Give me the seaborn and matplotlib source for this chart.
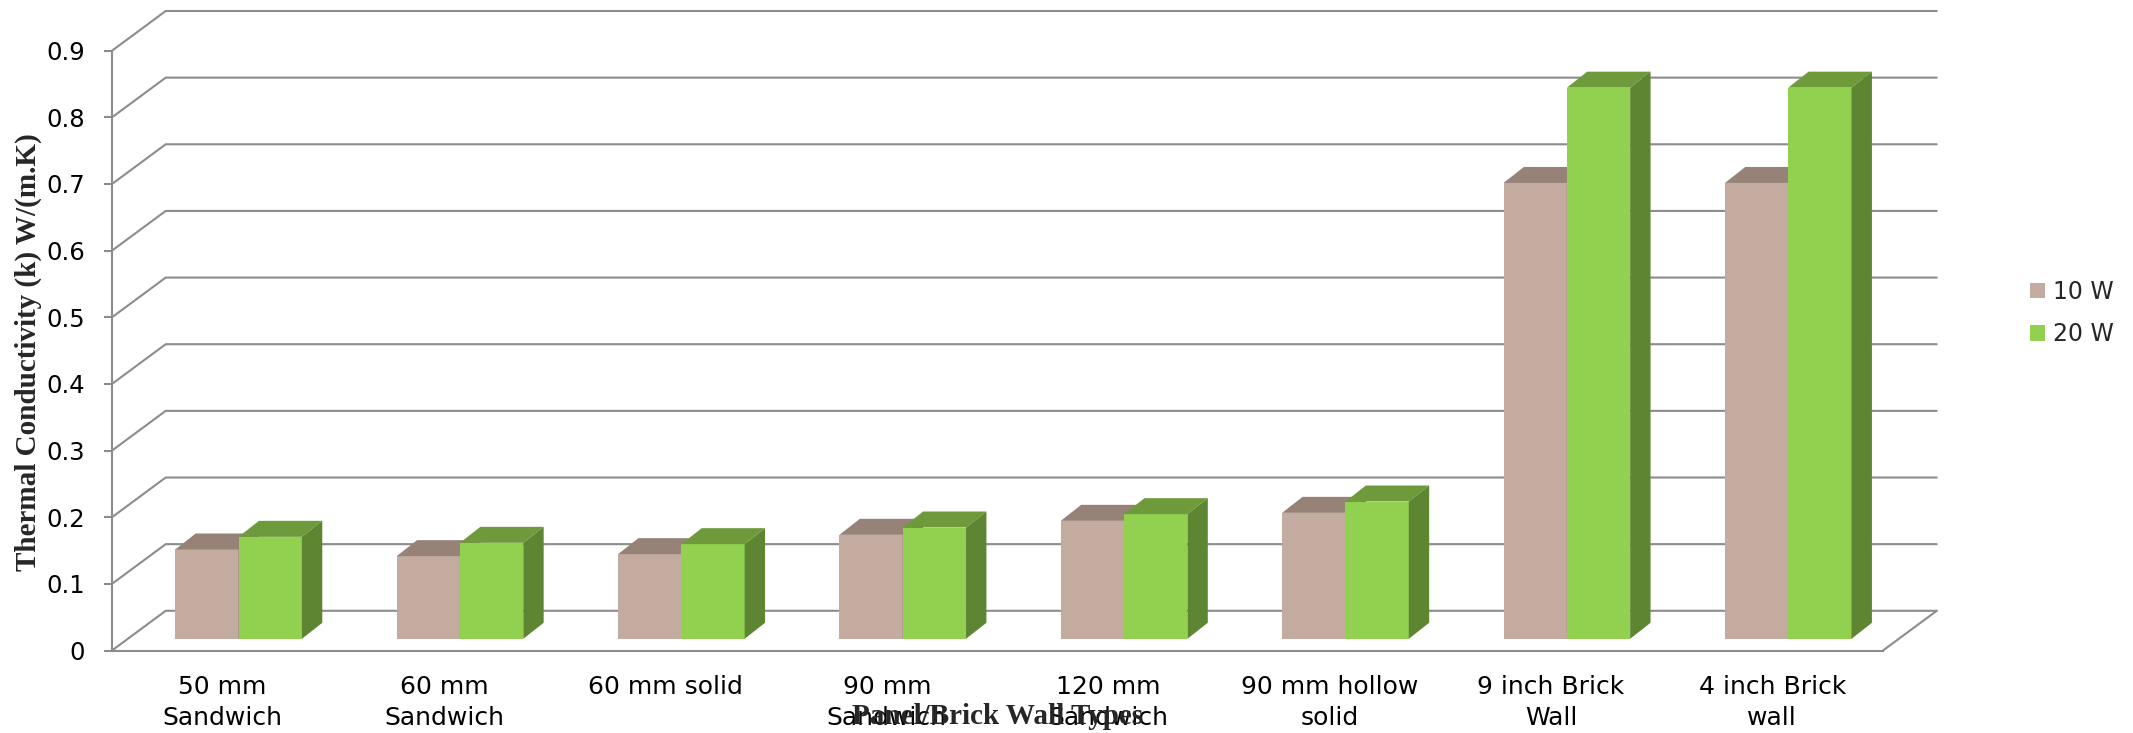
import numpy as np
import pandas as pd
import matplotlib
matplotlib.use("Agg")
import matplotlib.pyplot as plt
from matplotlib.patches import Polygon, Patch
import seaborn as sns

# ---- data -----------------------------------------------------------------
walls = [
    "50 mm\nSandwich",
    "60 mm\nSandwich",
    "60 mm solid",
    "90 mm\nSandwich",
    "120 mm\nSandwich",
    "90 mm hollow\nsolid",
    "9 inch Brick\nWall",
    "4 inch Brick\nwall",
]
powers = ["10 W", "20 W"]
k_10w = [0.134, 0.124, 0.127, 0.156, 0.177, 0.189, 0.684, 0.684]
k_20w = [0.153, 0.144, 0.142, 0.167, 0.187, 0.206, 0.827, 0.827]
y_ticks = [0, 0.1, 0.2, 0.3, 0.4, 0.5, 0.6, 0.7, 0.8, 0.9]
y_tick_labels = ["0", "0.1", "0.2", "0.3", "0.4", "0.5", "0.6", "0.7", "0.8", "0.9"]

df = pd.DataFrame({
    "wall": walls * 2,
    "k": k_10w + k_20w,
    "power": [powers[0]] * len(walls) + [powers[1]] * len(walls),
})

# ---- styling --------------------------------------------------------------
FRONT = {"10 W": "#C4AB9F", "20 W": "#92D050"}
TOP = {"10 W": "#968277", "20 W": "#6F9A3B"}
SIDE = {"10 W": "#8A776C", "20 W": "#5E8632"}
GRID = "#8C8C8C"
LW = 1.5

sns.set_style("white")
plt.rcParams["font.family"] = ["DejaVu Sans"]

W, H = 2133, 733
fig = plt.figure(figsize=(W / 100, H / 100), dpi=100)

# front plane of the 3-D box, in pixels
ax_left, ax_right = 112, 1883
ax_bottom, ax_top = 650.5, 50.7
ax = fig.add_axes([ax_left / W, (H - ax_bottom) / H,
                   (ax_right - ax_left) / W, (ax_bottom - ax_top) / H])

sns.barplot(data=df, x="wall", y="k", hue="power", order=walls,
            hue_order=powers, palette=[FRONT[p] for p in powers],
            width=0.572, saturation=1, errorbar=None, legend=False,
            linewidth=0, ax=ax)

n = len(walls)
ax.set_xlim(-0.5, n - 0.5)
ax.set_ylim(0, 0.9)

# pixel -> data conversions for the oblique depth offsets
px_x = (ax_right - ax_left) / n
px_y = (ax_bottom - ax_top) / 0.9
wall_dx, wall_dy = 53.7 / px_x, 39.7 / px_y      # back wall
bar_dx, bar_dy = 15.9 / px_x, 11.7 / px_y        # front face of the bars
side_dx, side_dy = 20.4 / px_x, 16.0 / px_y      # bar depth

# back-wall gridlines with the left-wall diagonals
x0, x1 = -0.5, n - 0.5
for v in y_ticks:
    ax.plot([x0, x0 + wall_dx, x1 + wall_dx], [v, v + wall_dy, v + wall_dy],
            color=GRID, lw=LW, clip_on=False, zorder=1)
ax.plot([x1, x1 + wall_dx], [0, wall_dy], color=GRID, lw=LW,
        clip_on=False, zorder=1)

# push the bars into the box and give them a top and a side face
for level, cont in zip(powers, ax.containers):
    z = 3 if level == powers[0] else 4
    for bar in cont:
        bx = bar.get_x() + bar_dx
        bw = bar.get_width()
        h = bar.get_height()
        bar.set_x(bx)
        bar.set_y(bar_dy)
        bar.set_zorder(z)
        base, top = bar_dy, bar_dy + h
        top_face = Polygon([(bx, top), (bx + bw, top),
                            (bx + bw + side_dx, top + side_dy),
                            (bx + side_dx, top + side_dy)],
                           closed=True, facecolor=TOP[level],
                           edgecolor="none", zorder=z, clip_on=False)
        side_face = Polygon([(bx + bw, base), (bx + bw + side_dx, base + side_dy),
                             (bx + bw + side_dx, top + side_dy), (bx + bw, top)],
                            closed=True, facecolor=SIDE[level],
                            edgecolor="none", zorder=z, clip_on=False)
        ax.add_patch(top_face)
        ax.add_patch(side_face)

# axes frame: left spine = front value axis, bottom spine = front floor edge
for s in ("top", "right"):
    ax.spines[s].set_visible(False)
for s in ("left", "bottom"):
    ax.spines[s].set_color(GRID)
    ax.spines[s].set_linewidth(LW)
    ax.spines[s].set_zorder(2)

ax.set_yticks(y_ticks, labels=y_tick_labels)
ax.set_xticks(np.arange(n), labels=walls)
ax.tick_params(axis="y", left=True, length=5.8, width=LW, color=GRID,
               pad=13.7, labelsize=17.5, labelcolor="black")
ax.tick_params(axis="x", bottom=False, length=0, pad=18, labelsize=18,
               labelcolor="black")
for lab in ax.get_xticklabels():
    lab.set_linespacing(1.35)

ax.set_xlabel("Panel/Brick Wall Types", family="Liberation Serif",
              fontweight="bold", fontsize=21)
ax.xaxis.set_label_coords(0.5, -(717 - ax_bottom) / (ax_bottom - ax_top))
ax.xaxis.label.set_va("center")

ax.set_ylabel("Thermal Conductivity (k) W/(m.K)", family="Liberation Serif",
              fontweight="bold", fontsize=21)
ax.yaxis.set_label_coords((28 - ax_left) / (ax_right - ax_left),
                          (ax_bottom - 352) / (ax_bottom - ax_top))
ax.yaxis.label.set_va("center")

handles = [Patch(facecolor=FRONT[p], edgecolor="none", label=p) for p in powers]
fig.legend(handles=handles, loc="center left",
           bbox_to_anchor=(2030 / W, 1 - 313 / H), frameon=False,
           fontsize=17, handlelength=0.62, handleheight=0.62,
           handletextpad=0.35, labelspacing=0.8, borderpad=0,
           borderaxespad=0)

fig.savefig("out.png", dpi=100, facecolor="white")
